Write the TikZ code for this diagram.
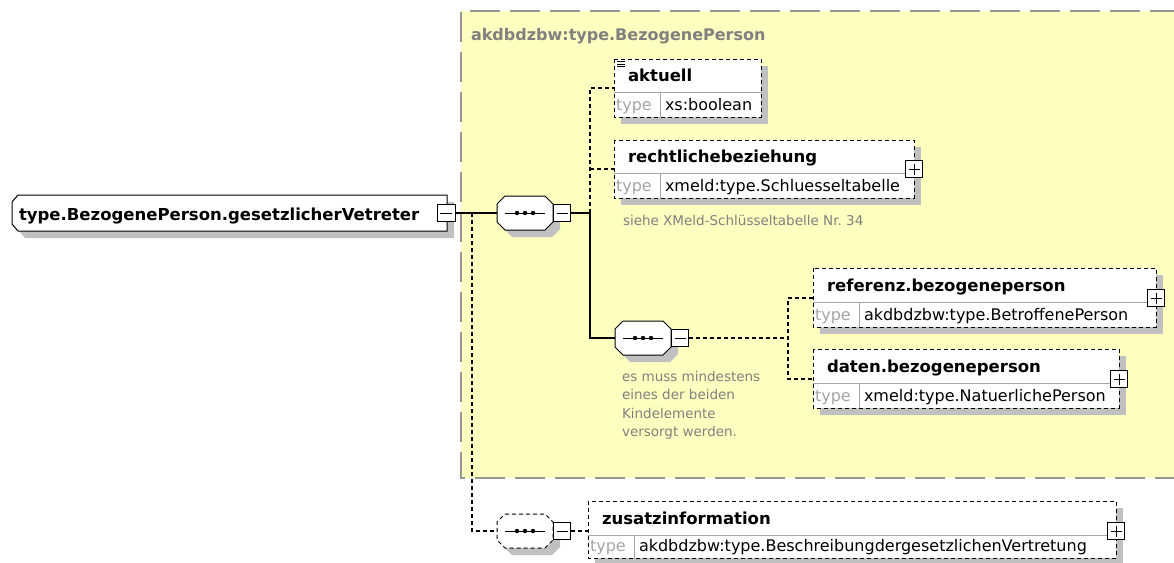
\documentclass[tikz,border=0pt]{standalone}
\usepackage{fontspec}
\setmainfont{DejaVu Sans}
\definecolor{panelfill}{RGB}{255,255,192}
\definecolor{panelline}{RGB}{150,150,150}
\definecolor{shadowgray}{RGB}{192,192,192}
\definecolor{notegray}{RGB}{128,128,128}
\definecolor{divgray}{RGB}{165,165,165}

\tikzset{
  every node/.style={inner sep=0pt, outer sep=0pt},
  namefont/.style={font=\fontsize{16.5}{19}\selectfont\bfseries, anchor=base west},
  valfont/.style={font=\fontsize{16}{19}\selectfont, anchor=base west},
  typelbl/.style={font=\fontsize{16}{19}\selectfont, text=divgray, anchor=base west},
  notefont/.style={font=\fontsize{13.5}{18.5}\selectfont, text=notegray, align=left},
  solidline/.style={line width=1.1pt, black},
  dashline/.style={line width=1.1pt, black, dash pattern=on 4pt off 3pt},
  togglebox/.style={draw, fill=white, line width=1pt, minimum width=17pt, minimum height=17pt},
  minusbox/.style={togglebox, path picture={\draw[line width=1pt]
      ([xshift=3pt]path picture bounding box.west) -- ([xshift=-3pt]path picture bounding box.east);}},
  plusbox/.style={togglebox, path picture={\draw[line width=1pt]
      ([xshift=3pt]path picture bounding box.west) -- ([xshift=-3pt]path picture bounding box.east)
      ([yshift=-3pt]path picture bounding box.north) -- ([yshift=3pt]path picture bounding box.south);}},
  anchorbox/.style={minimum width=56pt, minimum height=34pt},
}

% octagon outline of a compositor: centre x, centre y, path options
\newcommand{\xsdoct}[3]{%
  \path[#3] ({#1-20},{#2-17}) -- ({#1+20},{#2-17}) -- ({#1+28},{#2-9}) -- ({#1+28},{#2+9})
    -- ({#1+20},{#2+17}) -- ({#1-20},{#2+17}) -- ({#1-28},{#2+9}) -- ({#1-28},{#2-9}) -- cycle;}

% sequence compositor: name, centre x, centre y, border style
\newcommand{\xsdseq}[4]{%
  \xsdoct{#2+7}{#3+7}{fill=shadowgray}
  \xsdoct{#2}{#3}{fill=white, #4}
  \node[anchorbox] (#1) at (#2,#3) {};
  \draw[line width=1pt] ({#2-20},#3) -- ({#2+20},#3);
  \fill ({#2-8},#3) circle[radius=2.2pt] (#2,#3) circle[radius=2.2pt] ({#2+8},#3) circle[radius=2.2pt];
  \node[minusbox] (#1-tog) at ({#2+37},#3) {};}

% element box: name, left, top, right, row divider, bottom, element name, type
\newcommand{\xsdelem}[8]{%
  \fill[shadowgray] ({#2+7},{#3+7}) rectangle ({#4+7},{#6+7});
  \fill[white] (#2,#3) rectangle (#4,#6);
  \draw[divgray, line width=1pt] (#2,#5) -- (#4,#5) ({#2+46},#5) -- ({#2+46},#6);
  \draw[dashline, line width=1pt] (#2,#3) rectangle (#4,#6);
  \node[namefont] (#1) at ({#2+14},{#5-10.5}) {#7};
  \node[typelbl] (#1-typelbl) at ({#2+2},{#6-6.5}) {type};
  \node[valfont] (#1-type) at ({#2+51},{#6-6.5}) {#8};
  \coordinate (#1-in) at (#2,{#5-4});}

\begin{document}
\begin{tikzpicture}[x=1pt, y=-1pt]
\useasboundingbox (0,0) rectangle (1174,562);

% complex type panel
\fill[panelfill] (461,11) rectangle (1180,478);
\draw[panelline, line width=1.5pt, dash pattern=on 30pt off 10pt] (1180,11) -- (461,11) -- (461,478) -- (1180,478);
\node[font=\fontsize{16}{19}\selectfont\bfseries, text=notegray, anchor=base west] (paneltitle) at (471,40) {akdbdzbw:type.BezogenePerson};

% root element
\fill[shadowgray] (25,202) -- (454,202) -- (454,238) -- (25,238) -- (19,231) -- (19,209) -- cycle;
\draw[fill=white, line width=1pt] (18,195) -- (447,195) -- (447,231) -- (18,231) -- (12,224) -- (12,202) -- cycle;
\node[namefont] (root) at (19,220) {type.BezogenePerson.gesetzlicherVetreter};
\node[minusbox, minimum width=18pt] (root-tog) at (446,213) {};

% first sequence and its children
\xsdseq{seqA}{525}{213}{draw, line width=1pt}
\coordinate (forkA) at (590,213);

\xsdelem{aktuell}{614}{59}{761}{92}{117}{aktuell}{xs:boolean}
\draw[line width=0.7pt] (617,61.5) -- (625,61.5) (617,64) -- (625,64) (617,66.5) -- (625,66.5);

\xsdelem{recht}{614}{140}{914}{173}{198}{rechtlichebeziehung}{xmeld:type.Schluesseltabelle}
\node[plusbox] (recht-tog) at (914,169) {};
\node[notefont, anchor=base west] (recht-note) at (623,225) {siehe XMeld-Schlüsseltabelle Nr.~34};

% inner sequence with its two optional children
\xsdseq{seqB}{643}{338}{draw, line width=1pt}
\coordinate (forkB) at (788,338);
\node[notefont, anchor=north west] (seqB-note) at (622,371)
  {es muss mindestens\\eines der beiden\\Kindelemente\\versorgt werden.};

\xsdelem{referenz}{813}{268}{1156}{302}{327}{referenz.bezogeneperson}{akdbdzbw:type.BetroffenePerson}
\node[plusbox] (referenz-tog) at (1156,298) {};
\xsdelem{daten}{813}{349}{1119}{383}{408}{daten.bezogeneperson}{xmeld:type.NatuerlichePerson}
\node[plusbox] (daten-tog) at (1119,379) {};

% optional trailing sequence
\coordinate (rootfork) at (472,213);
\xsdseq{seqC}{525}{531}{draw, line width=1pt, dash pattern=on 4pt off 3pt}
\xsdelem{zusatz}{588}{501}{1116}{535}{558}{zusatzinformation}{akdbdzbw:type.BeschreibungdergesetzlichenVertretung}
\node[plusbox] (zusatz-tog) at (1116,531) {};

% connectors
\draw[solidline] (root-tog.east) -- (seqA.west);
\draw[solidline] (seqA-tog.east) -- (forkA);
\draw[dashline] (forkA) |- (aktuell-in);
\draw[dashline] (forkA |- recht-in) -- (recht-in);
\draw[solidline] (forkA) |- (seqB.west);
\draw[dashline] (seqB-tog.east) -- (forkB);
\draw[dashline] (referenz-in) -| (forkB |- daten-in) -- (daten-in);
\draw[dashline] (rootfork) |- (seqC.west);
\draw[dashline] (seqC-tog.east) -- (zusatz-in);
\end{tikzpicture}
\end{document}
